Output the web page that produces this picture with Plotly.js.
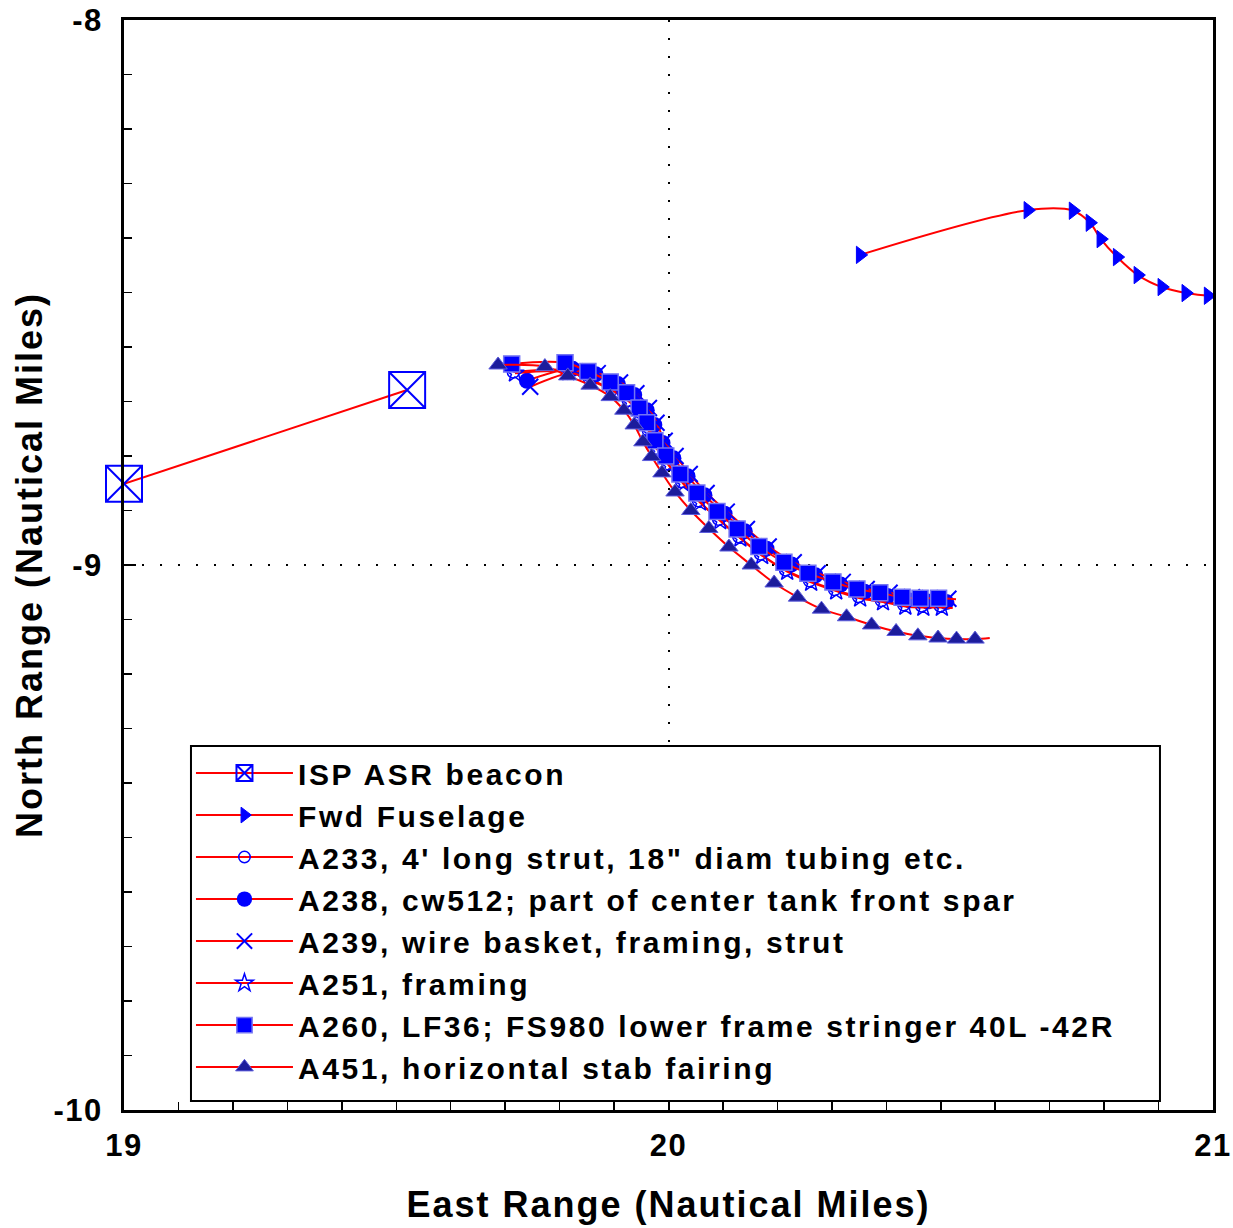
<!DOCTYPE html>
<html>
<head>
<meta charset="utf-8">
<script src="https://cdn.plot.ly/plotly-3.0.1.min.js"></script>
<style>
html,body{margin:0;padding:0;background:#fff;}
#chart{width:1233px;height:1228px;}
.legendtext{letter-spacing:2.6px;}
.xtick text,.ytick text{letter-spacing:1.5px;}
.xtitle,.ytitle{letter-spacing:2px;}
</style>
</head>
<body>
<div id="chart"></div>
<script>
// ---- data (East Range, North Range in nautical miles) ----
const beaconX = [19.000, 19.520];
const beaconY = [-8.851, -8.679];

const fwdX = [20.352, 20.660, 20.743, 20.774, 20.794, 20.824, 20.862, 20.906, 20.950, 20.991, 21.000];
const fwdY = [-8.431, -8.349, -8.350, -8.372, -8.402, -8.435, -8.468, -8.490, -8.501, -8.506, -8.507];

const a233X = [19.715, 19.813, 19.855, 19.896, 19.926, 19.949, 19.963, 19.978, 19.998, 20.024, 20.055, 20.092, 20.129, 20.169, 20.215, 20.259, 20.305, 20.349, 20.391, 20.432, 20.465, 20.499, 20.520];
const a233Y = [-8.646, -8.643, -8.659, -8.678, -8.698, -8.726, -8.753, -8.786, -8.814, -8.847, -8.882, -8.916, -8.948, -8.980, -9.009, -9.029, -9.045, -9.058, -9.065, -9.073, -9.075, -9.075, -9.076];

const a238X = [19.740, 19.824, 19.866, 19.907, 19.937, 19.960, 19.974, 19.989, 20.009, 20.035, 20.066, 20.103, 20.140, 20.180, 20.226, 20.270, 20.316, 20.360, 20.402, 20.443, 20.476, 20.510, 20.525];
const a238Y = [-8.662, -8.640, -8.650, -8.668, -8.688, -8.716, -8.743, -8.776, -8.804, -8.837, -8.872, -8.906, -8.938, -8.970, -8.999, -9.019, -9.036, -9.049, -9.057, -9.065, -9.067, -9.068, -9.069];

const a239X = [19.746, 19.828, 19.870, 19.911, 19.941, 19.964, 19.978, 19.993, 20.013, 20.039, 20.070, 20.107, 20.144, 20.184, 20.230, 20.274, 20.320, 20.364, 20.406, 20.447, 20.480, 20.514, 20.528];
const a239Y = [-8.673, -8.645, -8.648, -8.665, -8.685, -8.712, -8.739, -8.772, -8.800, -8.833, -8.868, -8.902, -8.934, -8.966, -8.995, -9.015, -9.031, -9.044, -9.051, -9.059, -9.061, -9.062, -9.063];

const a251X = [19.718, 19.816, 19.858, 19.899, 19.929, 19.952, 19.966, 19.981, 20.001, 20.027, 20.058, 20.095, 20.132, 20.172, 20.218, 20.262, 20.308, 20.352, 20.394, 20.435, 20.468, 20.502, 20.522];
const a251Y = [-8.648, -8.646, -8.662, -8.681, -8.701, -8.729, -8.756, -8.789, -8.817, -8.850, -8.885, -8.919, -8.951, -8.983, -9.012, -9.032, -9.048, -9.061, -9.068, -9.076, -9.078, -9.078, -9.079];

const a260X = [19.712, 19.810, 19.852, 19.893, 19.923, 19.946, 19.960, 19.975, 19.995, 20.021, 20.052, 20.089, 20.126, 20.166, 20.212, 20.256, 20.302, 20.346, 20.388, 20.429, 20.462, 20.496, 20.518];
const a260Y = [-8.631, -8.629, -8.645, -8.664, -8.684, -8.712, -8.739, -8.772, -8.800, -8.833, -8.868, -8.902, -8.934, -8.966, -8.995, -9.015, -9.031, -9.044, -9.051, -9.059, -9.061, -9.061, -9.062];

const a451X = [19.687, 19.773, 19.815, 19.856, 19.893, 19.918, 19.937, 19.953, 19.969, 19.988, 20.012, 20.041, 20.074, 20.111, 20.152, 20.194, 20.237, 20.281, 20.327, 20.373, 20.418, 20.458, 20.495, 20.529, 20.563, 20.590];
const a451Y = [-8.633, -8.636, -8.653, -8.670, -8.691, -8.716, -8.743, -8.774, -8.801, -8.831, -8.866, -8.900, -8.933, -8.967, -9.000, -9.033, -9.059, -9.081, -9.095, -9.110, -9.122, -9.130, -9.134, -9.136, -9.136, -9.134];

const seriesNames = [
  'ISP ASR beacon',
  'Fwd Fuselage',
  'A233, 4\' long strut, 18" diam tubing etc.',
  'A238, cw512; part of center tank front spar',
  'A239, wire basket, framing, strut',
  'A251, framing',
  'A260, LF36; FS980 lower frame stringer 40L -42R',
  'A451, horizontal stab fairing'
];

const xTickVals = [19, 20, 21];
const yTickVals = [-10, -9, -8];

// ---- styling helpers ----
const FONT = 'Liberation Sans, Arial, Helvetica, sans-serif';
const RED = '#ff0000';
const BLUE = '#0000ff';
function sizes(arr, s) { return arr.map((_, i) => (i === arr.length - 1 ? 0 : s)); }
function lineTrace(name, x, y, marker, shape) {
  marker.opacity = 1;
  return {
    type: 'scatter', mode: 'lines+markers', name: name, x: x, y: y,
    line: {color: RED, width: 2, shape: shape || 'spline', smoothing: 1},
    marker: marker
  };
}

const beaconTrace = lineTrace(seriesNames[0], beaconX, beaconY,
  {symbol: 'square-x-open', size: 36, color: BLUE, line: {color: BLUE, width: 2}}, 'linear');
beaconTrace.cliponaxis = false;

const traces = [
  beaconTrace,
  lineTrace(seriesNames[1], fwdX, fwdY,
    {symbol: 'triangle-right', size: sizes(fwdX, 15), color: BLUE, line: {color: BLUE, width: 1}}),
  lineTrace(seriesNames[2], a233X, a233Y,
    {symbol: 'circle-open', size: sizes(a233X, 12), color: BLUE, line: {color: BLUE, width: 1.5}}),
  lineTrace(seriesNames[3], a238X, a238Y,
    {symbol: 'circle', size: sizes(a238X, 16), color: BLUE, line: {width: 0}}),
  lineTrace(seriesNames[4], a239X, a239Y,
    {symbol: 'x-thin-open', size: sizes(a239X, 16), color: BLUE, line: {color: BLUE, width: 2}}),
  lineTrace(seriesNames[5], a251X, a251Y,
    {symbol: 'star-open', size: sizes(a251X, 14), color: BLUE, line: {color: BLUE, width: 1.5}}),
  lineTrace(seriesNames[6], a260X, a260Y,
    {symbol: 'square', size: sizes(a260X, 16), color: BLUE, line: {color: '#7474f4', width: 1.5}}),
  lineTrace(seriesNames[7], a451X, a451Y,
    {symbol: 'triangle-up', size: sizes(a451X, 16), color: '#1c1c9c', line: {color: '#5c5cdc', width: 1}})
];

const layout = {
  width: 1233, height: 1228,
  margin: {l: 124, r: 20, t: 20, b: 118},
  paper_bgcolor: '#ffffff', plot_bgcolor: '#ffffff',
  font: {family: FONT, size: 30, color: '#000', weight: 'bold'},
  showlegend: true,
  legend: {
    x: 0.0615, y: 0.333, xanchor: 'left', yanchor: 'top',
    bgcolor: 'rgba(0,0,0,0)', borderwidth: 0,
    font: {family: FONT, size: 30, color: '#000', weight: 'bold'},
    itemwidth: 97, tracegroupgap: 0
  },
  shapes: [{
    type: 'rect', xref: 'paper', yref: 'paper', layer: 'above',
    x0: 0.0615, x1: 0.9513, y0: 0.0083, y1: 0.334,
    fillcolor: '#ffffff', line: {color: '#000', width: 2}
  }],
  xaxis: {
    range: [19, 21], tickvals: xTickVals, ticktext: xTickVals.map(String),
    ticks: 'inside', ticklen: 12, tickwidth: 2, tickcolor: '#000',
    minor: {dtick: 0.1, ticks: 'inside', ticklen: 8, tickwidth: 1.5, tickcolor: '#000', showgrid: false},
    showline: true, linecolor: '#000', linewidth: 3, mirror: true,
    showgrid: true, gridcolor: '#000', gridwidth: 2, griddash: '2px,16px',
    zeroline: false,
    tickfont: {family: FONT, size: 31, color: '#000', weight: 'bold'},
    ticklabelstandoff: 6,
    title: {text: 'East Range (Nautical Miles)', font: {family: FONT, size: 36, color: '#000', weight: 'bold'}, standoff: 30}
  },
  yaxis: {
    range: [-10, -8], tickvals: yTickVals, ticktext: yTickVals.map(String),
    ticks: 'inside', ticklen: 12, tickwidth: 2, tickcolor: '#000',
    minor: {dtick: 0.1, ticks: 'inside', ticklen: 8, tickwidth: 1.5, tickcolor: '#000', showgrid: false},
    showline: true, linecolor: '#000', linewidth: 3, mirror: true,
    showgrid: true, gridcolor: '#000', gridwidth: 2, griddash: '2px,16px',
    zeroline: false, automargin: 'left',
    tickfont: {family: FONT, size: 31, color: '#000', weight: 'bold'},
    ticklabelstandoff: 12,
    title: {text: 'North Range (Nautical Miles)', font: {family: FONT, size: 36, color: '#000', weight: 'bold'}, standoff: 0}
  }
};

Plotly.newPlot('chart', traces, layout, {displayModeBar: false, staticPlot: true});
</script>
</body>
</html>
